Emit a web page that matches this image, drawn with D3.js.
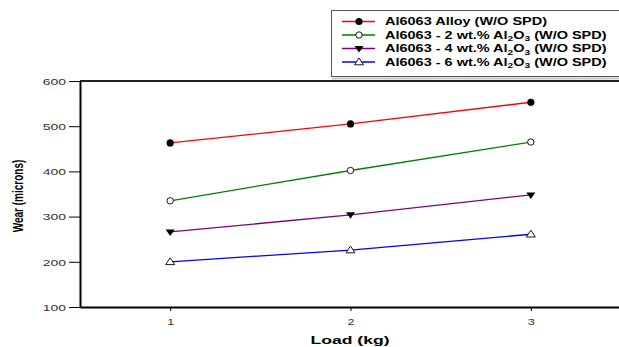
<!DOCTYPE html>
<html>
<head>
<meta charset="utf-8">
<script src="https://cdn.jsdelivr.net/npm/d3@7"></script>
<style>
  html, body { margin: 0; padding: 0; background: #fff; }
  svg { display: block; font-family: "Liberation Sans", Arial, sans-serif; }
</style>
</head>
<body>
<svg id="chart" width="619" height="347"></svg>
<script>
// Wear vs load for Al6063 and Al6063/Al2O3 composites (without SPD)
const loads = [1, 2, 3];
const alloy = [463, 505, 553];
const wt2 = [335, 402, 465];
const wt4 = [266, 304, 348];
const wt6 = [200, 226, 261];
const yTicks = [100, 200, 300, 400, 500, 600];
const xTicks = [1, 2, 3];

const series = [
  { values: alloy, color: "#ff0000", marker: "dot",
    label: [["Al6063 Alloy (W/O SPD)", false]] },
  { values: wt2, color: "#008000", marker: "ring",
    label: [["Al6063 - 2 wt.% Al", false], ["2", true], ["O", false], ["3", true], [" (W/O SPD)", false]] },
  { values: wt4, color: "#800080", marker: "down",
    label: [["Al6063 - 4 wt.% Al", false], ["2", true], ["O", false], ["3", true], [" (W/O SPD)", false]] },
  { values: wt6, color: "#0000ff", marker: "up",
    label: [["Al6063 - 6 wt.% Al", false], ["2", true], ["O", false], ["3", true], [" (W/O SPD)", false]] }
];

const svg = d3.select("#chart");
const plot = { left: 80, right: 621, top: 81, bottom: 307 };

const x = d3.scaleLinear().domain([0.5, 3.5]).range([plot.left, plot.right]);
const y = d3.scaleLinear().domain([100, 600]).range([plot.bottom, plot.top]);

// frame top and right
svg.append("path")
  .attr("d", `M${plot.left},${plot.top}H${plot.right}V${plot.bottom}`)
  .attr("fill", "none").attr("stroke", "#222").attr("stroke-width", 2);

// y axis
const gy = svg.append("g").attr("transform", `translate(${plot.left},0)`)
  .call(d3.axisLeft(y).tickValues(yTicks).tickSize(11).tickSizeOuter(0).tickFormat(d3.format("d")));
gy.select(".domain").attr("stroke", "#000").attr("stroke-width", 2);
gy.selectAll(".tick line").attr("stroke", "#000").attr("stroke-width", 1);
gy.selectAll(".tick text")
  .attr("x", null).attr("dy", null)
  .attr("transform", "translate(-14,3.2) scale(1.55,1)")
  .attr("font-size", 9).attr("fill", "#333").attr("text-anchor", "end");

// x axis
const gx = svg.append("g").attr("transform", `translate(0,${plot.bottom})`)
  .call(d3.axisBottom(x).tickValues(xTicks).tickSize(4).tickSizeOuter(0).tickFormat(d3.format("d")));
gx.select(".domain").attr("stroke", "#000").attr("stroke-width", 2);
gx.selectAll(".tick line").attr("stroke", "#000");
gx.selectAll(".tick text")
  .attr("y", null).attr("dy", null)
  .attr("transform", "translate(0,17.5) scale(1.4,1)")
  .attr("font-size", 9).attr("fill", "#333").attr("text-anchor", "middle");

// axis titles
svg.append("text")
  .attr("transform", `translate(350,343.5) scale(1.6,1)`)
  .attr("text-anchor", "middle").attr("font-size", 11).attr("font-weight", "bold")
  .text("Load (kg)");
svg.append("text")
  .attr("transform", `translate(23,196) scale(1.45,1) rotate(-90)`)
  .attr("text-anchor", "middle").attr("font-size", 10).attr("font-weight", "bold")
  .text("Wear (microns)");

// markers
function drawMarker(g, type, cx, cy) {
  if (type === "dot") {
    g.append("circle").attr("cx", cx).attr("cy", cy).attr("r", 3.6).attr("fill", "#000");
  } else if (type === "ring") {
    g.append("circle").attr("cx", cx).attr("cy", cy).attr("r", 3.2)
      .attr("fill", "#fff").attr("stroke", "#000").attr("stroke-width", 0.9);
  } else if (type === "down") {
    g.append("path").attr("d", `M${cx - 4.5},${cy - 2.5}L${cx + 4.5},${cy - 2.5}L${cx},${cy + 4}Z`)
      .attr("fill", "#000");
  } else {
    g.append("path").attr("d", `M${cx - 4.5},${cy + 2.8}L${cx + 4.5},${cy + 2.8}L${cx},${cy - 4}Z`)
      .attr("fill", "#fff").attr("stroke", "#000").attr("stroke-width", 0.9);
  }
}

const line = d3.line().x((d, i) => x(loads[i])).y(d => y(d));
series.forEach(s => {
  svg.append("path").datum(s.values).attr("d", line)
    .attr("fill", "none").attr("stroke", s.color).attr("stroke-width", 1.3);
});
series.forEach(s => {
  const g = svg.append("g");
  s.values.forEach((v, i) => drawMarker(g, s.marker, x(loads[i]), y(v)));
});

// legend
const leg = svg.append("g");
leg.append("line").attr("x1", 332).attr("x2", 625).attr("y1", 78.5).attr("y2", 78.5)
  .attr("stroke", "#c8c8c8").attr("stroke-width", 2);
leg.append("rect").attr("x", 331.5).attr("y", 10.5).attr("width", 300).attr("height", 66)
  .attr("fill", "#fff").attr("stroke", "#555").attr("stroke-width", 1);
const rowY = [21.5, 35, 48.5, 62];
series.forEach((s, i) => {
  const cy = rowY[i];
  leg.append("line").attr("x1", 342).attr("x2", 375).attr("y1", cy).attr("y2", cy)
    .attr("stroke", s.color).attr("stroke-width", 1.3);
  drawMarker(leg, s.marker, 359, cy);
  const t = leg.append("text")
    .attr("transform", `translate(385,${cy + 3.6}) scale(1.45,1)`)
    .attr("font-size", 10).attr("font-weight", "bold").attr("fill", "#000");
  s.label.forEach(([str, sub]) => {
    const ts = t.append("tspan").text(str);
    if (sub) ts.attr("font-size", 7).attr("dy", 2.5);
    else if (t.selectAll("tspan").size() > 1) ts.attr("dy", -2.5);
  });
});
</script>
</body>
</html>
